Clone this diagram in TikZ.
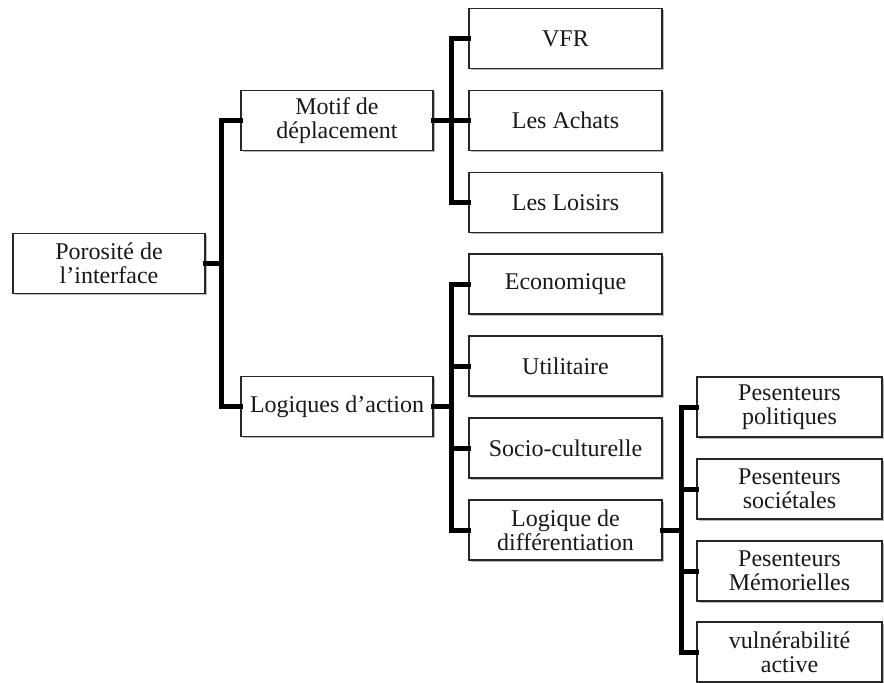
\documentclass[tikz,border=0pt]{standalone}
\usepackage{fontspec}
\setmainfont{Liberation Serif}
\usetikzlibrary{shadows}
\begin{document}
\begin{tikzpicture}[x=1pt,y=-1pt,
  box/.style={draw=black!85, line width=1.3pt, fill=white, align=center,
    minimum width=192pt, minimum height=60pt, inner sep=0pt,
    font=\fontsize{24}{24}\selectfont, text=black!90,
    drop shadow={shadow xshift=1.5pt, shadow yshift=-1.5pt, fill=black!60, opacity=0.45}},
  leaf/.style={box, minimum width=185pt},
  conn/.style={line width=5pt, line join=miter, line cap=rect}]
\useasboundingbox (0,0) rectangle (884,683);
% nodes
\node[box] (root) at (109,263.5) {Porosité de\\l’interface};
\node[box] (motif) at (337,120.5) {Motif de\\déplacement};
\node[box] (logiq) at (337,406.5) {Logiques d’action};
\node[box, minimum width=193pt] (vfr) at (565.5,38.5) {VFR};
\node[box, minimum width=193pt] (achats) at (565.5,120.5) {Les Achats};
\node[box, minimum width=193pt] (loisirs) at (565.5,202.5) {Les Loisirs};
\node[box, minimum width=193pt] (eco) at (565.5,284) {Economique};
\node[box, minimum width=193pt] (util) at (565.5,366) {Utilitaire};
\node[box, minimum width=193pt] (socio) at (565.5,448) {Socio-culturelle};
\node[box, minimum width=193pt] (diff) at (565.5,530) {Logique de\\différentiation};
\node[leaf] (pol) at (789.5,407) {Pesenteurs\\politiques};
\node[leaf] (soc) at (789.5,489) {Pesenteurs\\sociétales};
\node[leaf] (mem) at (789.5,571) {Pesenteurs\\Mémorielles};
\node[leaf] (vul) at (789.5,652) {vulnérabilité\\active};
% connectors
\coordinate (t1) at (221,0);
\coordinate (t2) at (451,0);
\coordinate (t3) at (681,0);
\draw[conn] (motif.west) -| (t1 |- motif.west) |- (logiq.west);
\draw[conn] (root.east) -- (root.east -| t1);
\draw[conn] (vfr.west) -| (t2 |- vfr.west) |- (loisirs.west);
\draw[conn] (motif.east) -- (achats.west);
\draw[conn] (eco.west) -| (t2 |- eco.west) |- (diff.west);
\draw[conn] (logiq.east) -- (logiq.east -| t2);
\draw[conn] (util.west) -- (util.west -| t2);
\draw[conn] (socio.west) -- (socio.west -| t2);
\draw[conn] (pol.west) -| (t3 |- pol.west) |- (vul.west);
\draw[conn] (diff.east) -- (diff.east -| t3);
\draw[conn] (soc.west) -- (soc.west -| t3);
\draw[conn] (mem.west) -- (mem.west -| t3);
\end{tikzpicture}
\end{document}
